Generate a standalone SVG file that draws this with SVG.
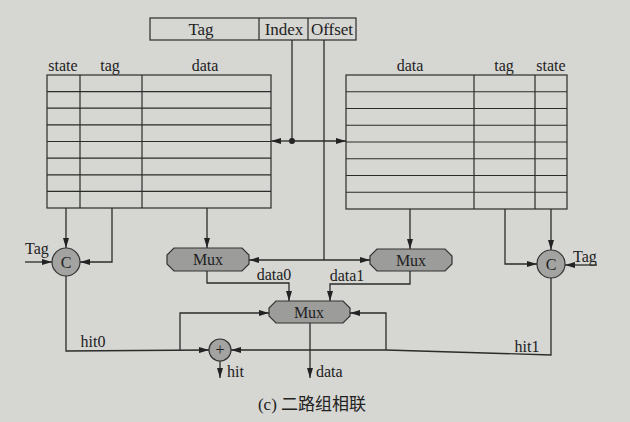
<svg xmlns="http://www.w3.org/2000/svg" width="630" height="422" viewBox="0 0 630 422">
<style>
.ln{fill:none;stroke:#2b2b2b;stroke-width:1.3}
.tb{fill:none;stroke:#2b2b2b;stroke-width:1.2}
.t{font-family:'Liberation Serif','Times New Roman',serif;font-size:16px;fill:#222}
.b{font-size:17px}
.cap{font-family:'Liberation Serif','Noto Sans CJK SC',serif;font-size:17px;fill:#222}
.c{text-anchor:middle}
.mux{fill:#9c9c9a;stroke:#333;stroke-width:1.2}
.cir{fill:#a3a3a1;stroke:#333;stroke-width:1.2}
</style>
<defs>
<marker id="ah" viewBox="0 0 10 6" refX="10" refY="3" markerWidth="10" markerHeight="6" markerUnits="userSpaceOnUse" orient="auto">
<path d="M0,0 L10,3 L0,6 z" fill="#222"/>
</marker>
</defs>
<rect width="630" height="422" fill="#d6d6d3"/>

<g id="address">
<rect x="150" y="18" width="206" height="22" class="tb"/>
<line x1="259" y1="18" x2="259" y2="40" class="tb"/>
<line x1="308" y1="18" x2="308" y2="40" class="tb"/>
<text x="201" y="35" class="t b c">Tag</text>
<text x="284" y="35" class="t b c">Index</text>
<text x="332" y="35" class="t b c">Offset</text>
</g>

<g id="way0">
<text x="63" y="71" class="t c">state</text>
<text x="110" y="71" class="t c">tag</text>
<text x="205" y="71" class="t c">data</text>
<rect x="47" y="75" width="224" height="133" class="tb"/>
<path class="tb" d="M80,75V208M142,75V208M47,91.6H271M47,108.2H271M47,124.9H271M47,141.5H271M47,158.1H271M47,174.8H271M47,191.4H271"/>
</g>

<g id="way1">
<text x="410" y="71" class="t c">data</text>
<text x="504" y="71" class="t c">tag</text>
<text x="551" y="71" class="t c">state</text>
<rect x="346" y="75" width="221" height="134" class="tb"/>
<path class="tb" d="M474,75V209M535,75V209M346,91.75H567M346,108.5H567M346,125.25H567M346,142H567M346,158.75H567M346,175.5H567M346,192.25H567"/>
</g>

<g id="cmp0">
<circle cx="66" cy="262" r="14" class="cir"/>
<text x="66" y="268" class="t c">C</text>
<text x="37" y="254" class="t c">Tag</text>
</g>
<g id="cmp1">
<circle cx="551" cy="264" r="14" class="cir"/>
<text x="551" y="270" class="t c">C</text>
<text x="585" y="262" class="t c">Tag</text>
</g>

<g id="mux0">
<polygon class="mux" points="174,248 242,248 249,255 249,264 242,271 174,271 167,264 167,255"/>
<text x="208" y="265" class="t c">Mux</text>
</g>
<g id="mux1">
<polygon class="mux" points="377,249 445,249 452,256 452,264 445,271 377,271 370,264 370,256"/>
<text x="411" y="266" class="t c">Mux</text>
</g>
<g id="mux2">
<polygon class="mux" points="276,301 343,301 350,308 350,316 343,323 276,323 269,316 269,308"/>
<text x="309" y="318" class="t c">Mux</text>
</g>

<g id="or">
<circle cx="220" cy="350" r="11" class="cir"/>
<text x="220" y="355" class="t c">+</text>
</g>

<g id="connectors">
<polyline class="ln" points="292,40 292,141"/>
<circle cx="292" cy="141" r="3" fill="#222"/>
<line class="ln" x1="292" y1="141" x2="271" y2="141" marker-end="url(#ah)"/>
<line class="ln" x1="292" y1="141" x2="346" y2="141" marker-end="url(#ah)"/>
<polyline class="ln" points="324,40 324,260"/>
<line class="ln" x1="324" y1="260" x2="249" y2="260" marker-end="url(#ah)"/>
<line class="ln" x1="324" y1="260" x2="370" y2="260" marker-end="url(#ah)"/>

<line class="ln" x1="66" y1="208" x2="66" y2="248" marker-end="url(#ah)"/>
<polyline class="ln" points="112,208 112,262 80,262" marker-end="url(#ah)"/>
<line class="ln" x1="25" y1="262" x2="52" y2="262" marker-end="url(#ah)"/>
<line class="ln" x1="207" y1="208" x2="207" y2="248" marker-end="url(#ah)"/>

<line class="ln" x1="551" y1="209" x2="551" y2="250" marker-end="url(#ah)"/>
<polyline class="ln" points="505,209 505,264 537,264" marker-end="url(#ah)"/>
<line class="ln" x1="597" y1="265" x2="565" y2="265" marker-end="url(#ah)"/>
<line class="ln" x1="410" y1="209" x2="410" y2="249" marker-end="url(#ah)"/>

<polyline class="ln" points="207,271 207,283 289,283 289,301" marker-end="url(#ah)"/>
<polyline class="ln" points="410,271 410,284 330,284 330,301" marker-end="url(#ah)"/>
<text x="274" y="280" class="t c">data0</text>
<text x="347" y="281" class="t c">data1</text>

<polyline class="ln" points="66,276 66,351 209,350" marker-end="url(#ah)"/>
<text x="93" y="347" class="t c">hit0</text>
<polyline class="ln" points="551,278 551,355 386,350 231,350" marker-end="url(#ah)"/>
<text x="527" y="352" class="t c">hit1</text>
<polyline class="ln" points="180,350 180,313 269,313" marker-end="url(#ah)"/>
<polyline class="ln" points="386,350 386,313 350,313" marker-end="url(#ah)"/>

<line class="ln" x1="220" y1="361" x2="220" y2="378" marker-end="url(#ah)"/>
<text x="227" y="377" class="t">hit</text>
<line class="ln" x1="310" y1="323" x2="310" y2="378" marker-end="url(#ah)"/>
<text x="316" y="377" class="t">data</text>
</g>

<text x="312" y="410" class="cap c">(c) 二路组相联</text>
</svg>
